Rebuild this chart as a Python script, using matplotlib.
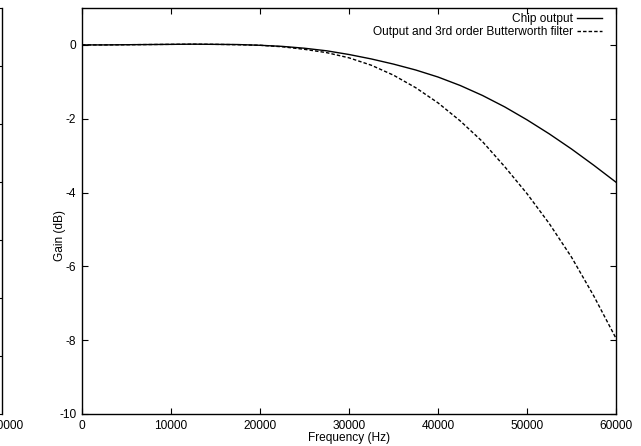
"""Gain vs frequency: chip output against output with 3rd order Butterworth filter."""

import matplotlib
matplotlib.use("Agg")
import matplotlib.pyplot as plt
from matplotlib.transforms import ScaledTranslation

plt.rcParams["font.family"] = ["Liberation Sans", "DejaVu Sans"]
plt.rcParams["font.size"] = 8.6

# frequency grid (Hz)
freq = [0, 2500, 5000, 7500, 10000, 12500, 15000, 17500, 20000, 22500,
        25000, 27500, 30000, 32500, 35000, 37500, 40000, 42500, 45000,
        47500, 50000, 52500, 55000, 57500, 60000]

chip_gain = [0.0, 0.0, 0.005, 0.01, 0.015, 0.02, 0.015, 0.01, -0.01, -0.04,
             -0.09, -0.16, -0.26, -0.38, -0.52, -0.68, -0.87, -1.10, -1.37,
             -1.68, -2.03, -2.41, -2.82, -3.26, -3.72]

butter_gain = [0.0, 0.0, 0.005, 0.01, 0.015, 0.02, 0.015, 0.005, -0.01, -0.05,
               -0.12, -0.21, -0.35, -0.55, -0.82, -1.16, -1.57, -2.06, -2.62,
               -3.30, -4.03, -4.84, -5.75, -6.80, -7.95]

x_ticks = [0, 10000, 20000, 30000, 40000, 50000, 60000]
y_ticks = [0, -2, -4, -6, -8, -10]

fig = plt.figure(figsize=(6.41, 4.46), dpi=100)

# sliver of the neighbouring plot on the left edge
side = fig.add_axes([-0.80, 32 / 446, 0.803, 406 / 446])
side.set_xlim(0, 60000)
side.set_ylim(0, 7)
side.set_xticks([60000])
side.set_xticklabels(["60000"])
side.set_yticks(range(8))
side.tick_params(axis="y", direction="in", right=True, left=False,
                 labelleft=False, length=3, width=0.8)
side.tick_params(axis="x", direction="in", length=0, pad=4)
for lab in side.get_xticklabels():
    lab.set_transform(lab.get_transform() + ScaledTranslation(0.05, 0, fig.dpi_scale_trans))
for name in ("top", "left", "bottom"):
    side.spines[name].set_visible(False)
side.spines["right"].set_linewidth(1.0)
side.patch.set_alpha(0)

ax = fig.add_axes([82 / 641, 32 / 446, 534 / 641, 406 / 446])
ax.plot(freq, chip_gain, color="black", linewidth=1.0, label="Chip output")
ax.plot(freq, butter_gain, color="black", linewidth=1.0, dashes=(2.5, 1.5),
        label="Output and 3rd order Butterworth filter")

ax.set_xlim(0, 60000)
ax.set_ylim(-10, 1)
ax.set_xticks(x_ticks)
ax.set_yticks(y_ticks)
ax.set_yticklabels([str(v) for v in y_ticks])
ax.tick_params(direction="in", top=True, right=True, length=4.5, width=0.8, pad=4)
for spine in ax.spines.values():
    spine.set_linewidth(1.0)

ax.set_xlabel("Frequency (Hz)", labelpad=0)
ax.set_ylabel("Gain (dB)")
ax.yaxis.set_label_coords(-0.03, 0.44)

ax.legend(loc="upper right", bbox_to_anchor=(0.983, 1.0), frameon=False,
          markerfirst=False, handlelength=2.1, handletextpad=0.35,
          labelspacing=0.1, borderaxespad=0.0, fontsize=8.6)

fig.savefig("out.png", dpi=100)
